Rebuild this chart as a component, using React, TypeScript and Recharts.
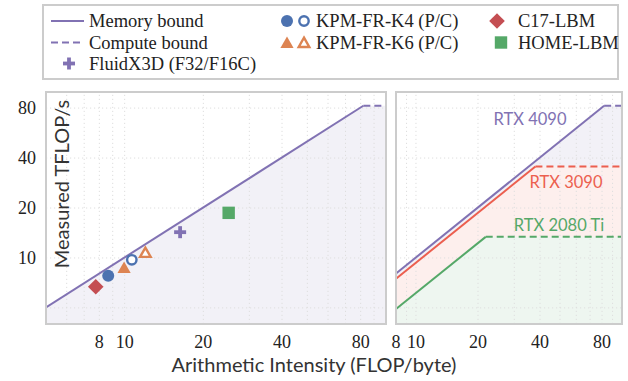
import React from 'react';
import { ComposedChart, XAxis, YAxis, Line, Area, Scatter, ReferenceLine } from 'recharts';

const SERIF = '"Liberation Serif", "Times New Roman", serif';
const SANS = 'Lato, "Open Sans", sans-serif';

const PURPLE = '#8172b3';
const BLUE = '#4c72b0';
const ORANGE = '#dd8452';
const RED = '#c44e52';
const GREEN = '#55a868';
const RTX3090_RED = '#ec5f4f';

// axes
const xTickLabels = [8, 10, 20, 40, 80];
const yTickLabels = [10, 20, 40, 80];
const xGridLeft = [6, 7, 8, 9, 10, 20, 30, 40, 50, 60, 70, 80, 90];
const xGridRight = [9, 10, 20, 30, 40, 50, 60, 70, 80, 90];
const yGrid = [5, 10, 20, 40, 80];
const xDomainLeft = [5, 100];
const xDomainRight = [8, 100];
const yDomain = [4, 100];

// rooflines (arithmetic intensity FLOP/byte, TFLOP/s)
const rtx4090MemoryLeft = [{ x: 5, y: 5.04 }, { x: 81.9, y: 82.6 }];
const rtx4090Memory = [{ x: 8, y: 8.06 }, { x: 81.9, y: 82.6 }];
const rtx4090Compute = [{ x: 81.9, y: 82.6 }, { x: 100, y: 82.6 }];
const rtx3090Memory = [{ x: 8, y: 7.49 }, { x: 38, y: 35.6 }];
const rtx3090Compute = [{ x: 38, y: 35.6 }, { x: 100, y: 35.6 }];
const rtx2080Memory = [{ x: 8, y: 4.93 }, { x: 21.8, y: 13.4 }];
const rtx2080Compute = [{ x: 21.8, y: 13.4 }, { x: 100, y: 13.4 }];

// measured kernels
const c17Lbm = [{ x: 7.75, y: 6.7 }];
const kpmK4Perf = [{ x: 8.65, y: 7.8 }];
const kpmK4Comp = [{ x: 10.65, y: 9.75 }];
const kpmK6Perf = [{ x: 9.95, y: 8.75 }];
const kpmK6Comp = [{ x: 12.0, y: 10.8 }];
const fluidX3D = [{ x: 16.3, y: 14.3 }];
const homeLbm = [{ x: 25.0, y: 18.7 }];

const GRID = '#dedede';
const FRAME = '#cccccc';

const XTick = (p: any) => (
  <text x={p.x} y={348} textAnchor="middle" fontFamily={SERIF} fontSize={18} fill="#222">
    {p.payload.value}
  </text>
);
const YTick = (p: any) => (
  <text x={36} y={p.y + 6} textAnchor="end" fontFamily={SERIF} fontSize={18} fill="#222">
    {p.payload.value}
  </text>
);

const triPoints = (cx: number, cy: number, s: number) =>
  `${cx},${cy - s} ${cx + s * 1.0},${cy + s * 0.75} ${cx - s * 1.0},${cy + s * 0.75}`;

const FilledCircle = ({ cx, cy, color }: any) => <circle cx={cx} cy={cy} r={6} fill={color} />;
const OpenCircle = ({ cx, cy, color }: any) => (
  <circle cx={cx} cy={cy} r={4.7} fill="#fff" stroke={color} strokeWidth={2.4} />
);
const FilledTriangle = ({ cx, cy, color }: any) => <polygon points={triPoints(cx, cy + 0.5, 6.6)} fill={color} />;
const OpenTriangle = ({ cx, cy, color }: any) => (
  <polygon points={triPoints(cx, cy + 0.5, 5.3)} fill="#fff" stroke={color} strokeWidth={2.4} />
);
const Diamond = ({ cx, cy, color }: any) => (
  <polygon points={`${cx},${cy - 7.8} ${cx + 7.8},${cy} ${cx},${cy + 7.8} ${cx - 7.8},${cy}`} fill={color} />
);
const Square = ({ cx, cy, color }: any) => (
  <rect x={cx - 6.2} y={cy - 6.2} width={12.4} height={12.4} fill={color} />
);
const Plus = ({ cx, cy, color }: any) => (
  <g fill={color}>
    <rect x={cx - 6} y={cy - 1.9} width={12} height={3.8} />
    <rect x={cx - 1.9} y={cy - 6} width={3.8} height={12} />
  </g>
);

const shapeOf = (Comp: any, color: string) => (p: any) => <Comp cx={p.cx} cy={p.cy} color={color} />;

const gridLines = (xs: number[], ys: number[]) => [
  ...xs.map((v) => (
    <ReferenceLine key={'gx' + v} x={v} stroke={GRID} strokeWidth={1} strokeDasharray="1.2 2.8" zIndex={150} />
  )),
  ...ys.map((v) => (
    <ReferenceLine key={'gy' + v} y={v} stroke={GRID} strokeWidth={1} strokeDasharray="1.2 2.8" zIndex={150} />
  )),
];

const roofArea = (mem: { x: number; y: number }[], comp: { x: number; y: number }[], fill: string, key: string) => (
  <Area
    key={key}
    data={[...mem, comp[1]]}
    dataKey="y"
    type="linear"
    stroke="none"
    fill={fill}
    fillOpacity={1}
    baseValue={4}
    isAnimationActive={false}
    dot={false}
    activeDot={false}
  />
);

const roofLines = (mem: { x: number; y: number }[], comp: { x: number; y: number }[], color: string, key: string) => [
  <Line key={key + 'm'} data={mem} dataKey="y" type="linear" stroke={color} strokeWidth={2} dot={false} activeDot={false} isAnimationActive={false} />,
  <Line key={key + 'c'} data={comp} dataKey="y" type="linear" stroke={color} strokeWidth={2} strokeDasharray="7 4" dot={false} activeDot={false} isAnimationActive={false} />,
];

export default function App() {
  return (
    <div style={{ position: 'absolute', left: 0, top: 0, width: 628, height: 381, background: '#fff', overflow: 'hidden' }}>
      <div style={{ position: 'absolute', left: 0, top: 0 }}>
        <ComposedChart width={392} height={381} margin={{ top: 92, right: 6, bottom: 27, left: 6 }}>
          <XAxis type="number" dataKey="x" scale="log" domain={xDomainLeft} allowDataOverflow ticks={xTickLabels} interval={0} tick={<XTick />} axisLine={false} tickLine={false} height={30} />
          <YAxis type="number" dataKey="y" scale="log" domain={yDomain} allowDataOverflow ticks={yTickLabels} interval={0} tick={<YTick />} axisLine={false} tickLine={false} width={40} />
          {roofArea(rtx4090MemoryLeft, rtx4090Compute, '#f2f1f7', 'a4090')}
          {gridLines(xGridLeft, yGrid)}
          {roofLines(rtx4090MemoryLeft, rtx4090Compute, PURPLE, 'l4090')}
          <Scatter data={c17Lbm} shape={shapeOf(Diamond, RED)} isAnimationActive={false} />
          <Scatter data={kpmK4Perf} shape={shapeOf(FilledCircle, BLUE)} isAnimationActive={false} />
          <Scatter data={kpmK4Comp} shape={shapeOf(OpenCircle, BLUE)} isAnimationActive={false} />
          <Scatter data={kpmK6Perf} shape={shapeOf(FilledTriangle, ORANGE)} isAnimationActive={false} />
          <Scatter data={kpmK6Comp} shape={shapeOf(OpenTriangle, ORANGE)} isAnimationActive={false} />
          <Scatter data={fluidX3D} shape={shapeOf(Plus, PURPLE)} isAnimationActive={false} />
          <Scatter data={homeLbm} shape={shapeOf(Square, GREEN)} isAnimationActive={false} />
        </ComposedChart>
      </div>
      <div style={{ position: 'absolute', left: 390, top: 0 }}>
        <ComposedChart width={238} height={381} margin={{ top: 92, right: 6, bottom: 27, left: 6 }}>
          <XAxis type="number" dataKey="x" scale="log" domain={xDomainRight} allowDataOverflow ticks={xTickLabels} interval={0} tick={<XTick />} axisLine={false} tickLine={false} height={30} />
          <YAxis type="number" dataKey="y" scale="log" domain={yDomain} allowDataOverflow hide />
          {roofArea(rtx4090Memory, rtx4090Compute, '#f2f1f7', 'b4090')}
          {roofArea(rtx3090Memory, rtx3090Compute, '#fdefed', 'b3090')}
          {roofArea(rtx2080Memory, rtx2080Compute, '#eef6f0', 'b2080')}
          {gridLines(xGridRight, yGrid)}
          {roofLines(rtx4090Memory, rtx4090Compute, PURPLE, 'r4090')}
          {roofLines(rtx3090Memory, rtx3090Compute, RTX3090_RED, 'r3090')}
          {roofLines(rtx2080Memory, rtx2080Compute, GREEN, 'r2080')}
        </ComposedChart>
      </div>
      <svg width={628} height={381} style={{ position: 'absolute', left: 0, top: 0, pointerEvents: 'none' }}>
        {/* panel frames */}
        <rect x={46} y={92} width={340} height={232} fill="none" stroke={FRAME} strokeWidth={2} />
        <rect x={396} y={92} width={226} height={232} fill="none" stroke={FRAME} strokeWidth={2} />
        {/* axis titles */}
        <text x={314} y={372} textAnchor="middle" fontFamily={SANS} fontSize={20} fill="#333">
          Arithmetic Intensity (FLOP/byte)
        </text>
        <text x={0} y={0} transform="translate(69,184) rotate(-90)" textAnchor="middle" fontFamily={SANS} fontSize={20} fill="#333">
          Measured TFLOP/s
        </text>
        {/* GPU labels */}
        <text x={530} y={125} textAnchor="middle" fontFamily={SANS} fontSize={16.5} fill={PURPLE}>RTX 4090</text>
        <text x={566} y={188} textAnchor="middle" fontFamily={SANS} fontSize={16.5} fill={RTX3090_RED}>RTX 3090</text>
        <text x={559} y={231} textAnchor="middle" fontFamily={SANS} fontSize={16.5} fill={GREEN}>RTX 2080 Ti</text>
        {/* legend */}
        <rect x={43} y={5} width={575} height={74} fill="#fff" stroke={FRAME} strokeWidth={2} />
        <g fontFamily={SERIF} fontSize={18.5} fill="#222">
          <line x1={51} y1={21} x2={84} y2={21} stroke={PURPLE} strokeWidth={2} />
          <text x={89} y={27}>Memory bound</text>
          <line x1={51} y1={42.5} x2={84} y2={42.5} stroke={PURPLE} strokeWidth={2} strokeDasharray="7 4" />
          <text x={89} y={48.5}>Compute bound</text>
          <Plus cx={69} cy={63.5} color={PURPLE} />
          <text x={89} y={69.5}>FluidX3D (F32/F16C)</text>

          <FilledCircle cx={287} cy={21} color={BLUE} />
          <OpenCircle cx={304} cy={21} color={BLUE} />
          <text x={316} y={27}>KPM-FR-K4 (P/C)</text>
          <FilledTriangle cx={287} cy={42.5} color={ORANGE} />
          <OpenTriangle cx={304} cy={42.5} color={ORANGE} />
          <text x={316} y={48.5}>KPM-FR-K6 (P/C)</text>

          <Diamond cx={497} cy={21} color={RED} />
          <text x={518} y={27}>C17-LBM</text>
          <Square cx={501} cy={42.5} color={GREEN} />
          <text x={518} y={48.5}>HOME-LBM</text>
        </g>
      </svg>
    </div>
  );
}
